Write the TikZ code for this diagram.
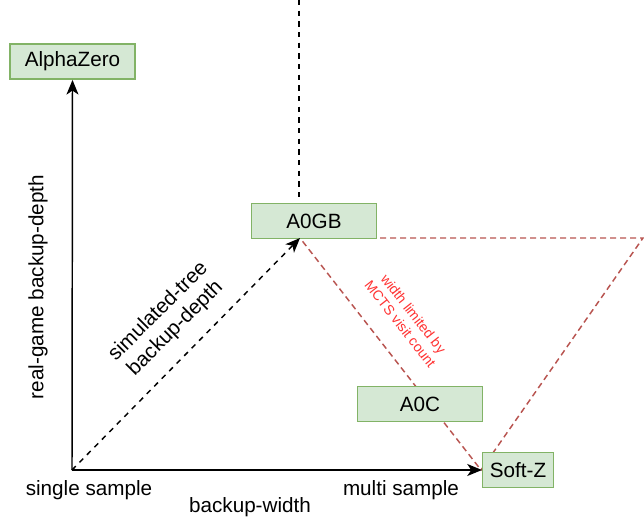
\documentclass[tikz,border=0pt]{standalone}
\usepackage{fontspec}
\setmainfont{Liberation Sans}
\usetikzlibrary{arrows.meta}
\definecolor{boxfill}{HTML}{D5E8D4}
\definecolor{boxline}{HTML}{82B366}
\definecolor{tri}{HTML}{B85450}
\definecolor{redtext}{HTML}{FF3333}
\begin{document}
\begin{tikzpicture}[x=0.75pt,y=-0.75pt,
  algo/.style={draw=boxline,fill=boxfill,line width=1.1pt,minimum height=26.5pt,inner sep=0pt,font=\fontsize{15.5}{18}\selectfont},
  axis/.style={line width=1.1pt,-{Stealth[length=11pt,width=9pt,inset=3pt]}},
  lbl/.style={font=\fontsize{15.5}{18}\selectfont,inner sep=0pt,align=center},
  tridash/.style={draw=tri,line width=1.1pt,dash pattern=on 4.5pt off 3pt}]
\useasboundingbox (0,0) rectangle (644,519);
\coordinate (o) at (72,470);
\coordinate (top) at (299,0);
\coordinate (t1) at (300,238);
\coordinate (t2) at (643,238);
\coordinate (t3) at (481,470);
% red triangle behind boxes
\draw[tridash] (t1) -- (t2) -- (t3) -- cycle;
% boxes
\node[algo,minimum width=94pt] (az) at (72.5,61.5) {AlphaZero};
\node[algo,minimum width=94pt] (gb) at (314,221) {A0GB};
\node[algo,minimum width=94pt] (ac) at (420,404) {A0C};
\node[algo,minimum width=53pt] (sz) at (518,470) {Soft-Z};
% black dashed lines
\draw[line width=1.1pt,dash pattern=on 4pt off 4pt] (top) -- (top |- gb.north);
\draw[line width=1.1pt,dash pattern=on 4pt off 4pt,-{Stealth[length=11pt,width=9pt,inset=3pt]}] (o) -- (t1);
% axes
\draw[axis] (o) -- (az.south);
\draw[axis] (o) -- (sz.west);
% labels
\node[lbl,rotate=90] (rg) at (38,287) {real-game backup-depth};
\node[lbl,rotate=45] (st) at (167,320) {simulated-tree\\backup-depth};
\node[lbl] (ss) at (89,490) {single sample};
\node[lbl] (bw) at (250,507) {backup-width};
\node[lbl] (ms) at (401,490) {multi sample};
\node[font=\fontsize{10.5}{12.5}\selectfont,text=redtext,rotate=-52,align=center,inner sep=0pt] (wl) at (407,319) {width limited by\\MCTS visit count};
\end{tikzpicture}
\end{document}
